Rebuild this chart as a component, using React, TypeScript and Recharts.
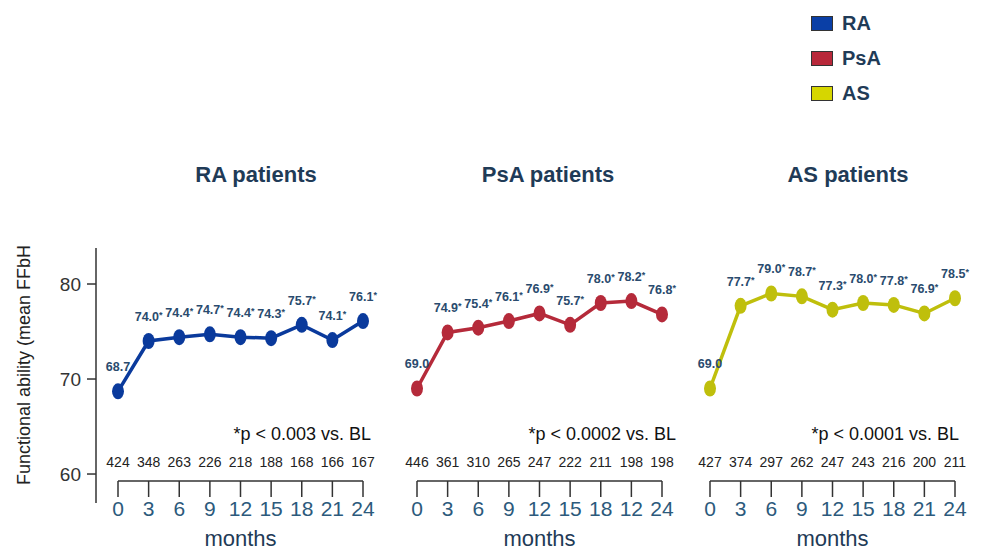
import React from 'react';
import { LineChart, Line, XAxis, YAxis, LabelList } from 'recharts';

// months of follow-up
const months = [0, 3, 6, 9, 12, 15, 18, 21, 24];

// mean FFbH per visit
const raValues = [68.7, 74.0, 74.4, 74.7, 74.4, 74.3, 75.7, 74.1, 76.1];
const psaValues = [69.0, 74.9, 75.4, 76.1, 76.9, 75.7, 78.0, 78.2, 76.8];
const asValues = [69.0, 77.7, 79.0, 78.7, 77.3, 78.0, 77.8, 76.9, 78.5];

// patients per visit
const raCounts = [424, 348, 263, 226, 218, 188, 168, 166, 167];
const psaCounts = [446, 361, 310, 265, 247, 222, 211, 198, 198];
const asCounts = [427, 374, 297, 262, 247, 243, 216, 200, 211];

// tick labels as printed (PsA panel has "12" at 21 months)
const raTickLabels = ['0', '3', '6', '9', '12', '15', '18', '21', '24'];
const psaTickLabels = ['0', '3', '6', '9', '12', '15', '18', '12', '24'];
const asTickLabels = ['0', '3', '6', '9', '12', '15', '18', '21', '24'];

const yTicks = [60, 70, 80];

const FONT = '"Liberation Sans", Arial, sans-serif';
const NAVY = '#1f3b57';

interface PanelProps {
  title: string;
  titleCenter: number;
  values: number[];
  counts: number[];
  tickLabels: string[];
  color: string;
  x0: number;
  note: string;
  noteRight: number;
}

const Panel: React.FC<PanelProps> = ({ title, titleCenter, values, counts, tickLabels, color, x0, note, noteRight }) => {
  const data = months.map((m, i) => ({ month: m, value: values[i] }));

  const renderTick = (props: any) => {
    const { x, y, payload } = props;
    const i = months.indexOf(payload.value);
    return (
      <g>
        <text x={x} y={y - 32} textAnchor="middle" fontSize={14} fill="#222" fontFamily={FONT}>
          {counts[i]}
        </text>
        <text x={x} y={y + 17} textAnchor="middle" fontSize={21} fill="#2c5a7c" fontFamily={FONT}>
          {tickLabels[i]}
        </text>
      </g>
    );
  };

  const renderDot = (props: any) => {
    const { cx, cy, index } = props;
    return <ellipse key={'d' + index} cx={cx} cy={cy} rx={6} ry={8} fill={color} />;
  };

  const renderLabel = (props: any) => {
    const { x, y, value, index } = props;
    return (
      <text x={x} y={y - 20} textAnchor="middle" fontSize={12.5} fontWeight="bold" fill="#2a4b6e" fontFamily={FONT}>
        {Number(value).toFixed(1)}
        {index > 0 ? <tspan fontSize={9} dy={-3}>*</tspan> : null}
      </text>
    );
  };

  return (
    <>
      <div
        style={{
          position: 'absolute', left: titleCenter - 110, top: 163, width: 220, textAlign: 'center',
          fontSize: 22, fontWeight: 'bold', color: NAVY, fontFamily: FONT, lineHeight: '24px',
        }}
      >
        {title}
      </div>
      <div
        style={{
          position: 'absolute', left: noteRight - 220, top: 424, width: 220, textAlign: 'right',
          fontSize: 18, color: '#111', fontFamily: FONT, lineHeight: '20px', whiteSpace: 'nowrap',
        }}
      >
        {note}
      </div>
      <div style={{ position: 'absolute', left: x0 - 30, top: 200 }}>
        <LineChart width={305} height={353} data={data} margin={{ top: 48, right: 30, left: 30, bottom: 0 }}>
          <XAxis
            dataKey="month"
            type="number"
            domain={[0, 24]}
            ticks={months}
            height={72}
            tickSize={16}
            tickMargin={2}
            stroke="#333"
            tickLine={{ stroke: '#333', strokeWidth: 1.5 }}
            axisLine={{ stroke: '#333', strokeWidth: 1.5 }}
            tick={renderTick}
            interval={0}
            label={{ value: 'months', position: 'insideBottom', offset: 7, fontSize: 22, fill: NAVY, fontFamily: FONT }}
          />
          <YAxis hide domain={[59.26, 83.79]} allowDataOverflow />
          <Line
            dataKey="value"
            stroke={color}
            strokeWidth={3.5}
            dot={renderDot}
            activeDot={false}
            isAnimationActive={false}
          >
            <LabelList dataKey="value" content={renderLabel} />
          </Line>
        </LineChart>
      </div>
    </>
  );
};

const legendItems = [
  { name: 'RA', color: '#0a3fa6' },
  { name: 'PsA', color: '#b8283a' },
  { name: 'AS', color: '#d6d600' },
];

export default function App() {
  const axisData = months.map((m, i) => ({ month: m, value: raValues[i] }));
  return (
    <div style={{ position: 'absolute', left: 0, top: 0, width: 983, height: 553, background: '#fff', fontFamily: FONT, overflow: 'hidden' }}>
      {legendItems.map((it, i) => (
        <div key={it.name} style={{ position: 'absolute', left: 811, top: 15 + i * 35, height: 16, display: 'flex', alignItems: 'center' }}>
          <div style={{ width: 20, height: 13, background: it.color, border: '1.5px solid #333' }} />
          <div style={{ marginLeft: 9, fontSize: 20, fontWeight: 'bold', color: NAVY, lineHeight: '16px' }}>{it.name}</div>
        </div>
      ))}

      {/* shared y axis */}
      <div style={{ position: 'absolute', left: 0, top: 200 }}>
        <LineChart width={110} height={353} data={axisData} margin={{ top: 48, right: 4, left: 0, bottom: 50 }}>
          <XAxis dataKey="month" type="number" domain={[0, 24]} hide />
          <YAxis
            width={96}
            domain={[56.95, 83.79]}
            allowDataOverflow
            ticks={yTicks}
            tickSize={9}
            tickMargin={6}
            stroke="#333"
            axisLine={{ stroke: '#333', strokeWidth: 1.5 }}
            tickLine={{ stroke: '#333', strokeWidth: 1.5 }}
            tick={{ fontSize: 19, fill: '#333', fontFamily: FONT }}
            label={{
              content: () => (
                <text transform="translate(30,165) rotate(-90)" textAnchor="middle" fontSize={18} fill="#222" fontFamily={FONT}>
                  Functional ability (mean FFbH
                </text>
              ),
            }}
          />
          <Line dataKey="value" hide isAnimationActive={false} />
        </LineChart>
      </div>

      <Panel title="RA patients" titleCenter={256} values={raValues} counts={raCounts} tickLabels={raTickLabels} color="#0a3a9c" x0={118} note="*p < 0.003 vs. BL" noteRight={371} />
      <Panel title="PsA patients" titleCenter={548} values={psaValues} counts={psaCounts} tickLabels={psaTickLabels} color="#b52a3a" x0={417} note="*p < 0.0002 vs. BL" noteRight={676} />
      <Panel title="AS patients" titleCenter={848} values={asValues} counts={asCounts} tickLabels={asTickLabels} color="#bfbf0c" x0={710} note="*p < 0.0001 vs. BL" noteRight={959} />
    </div>
  );
}
